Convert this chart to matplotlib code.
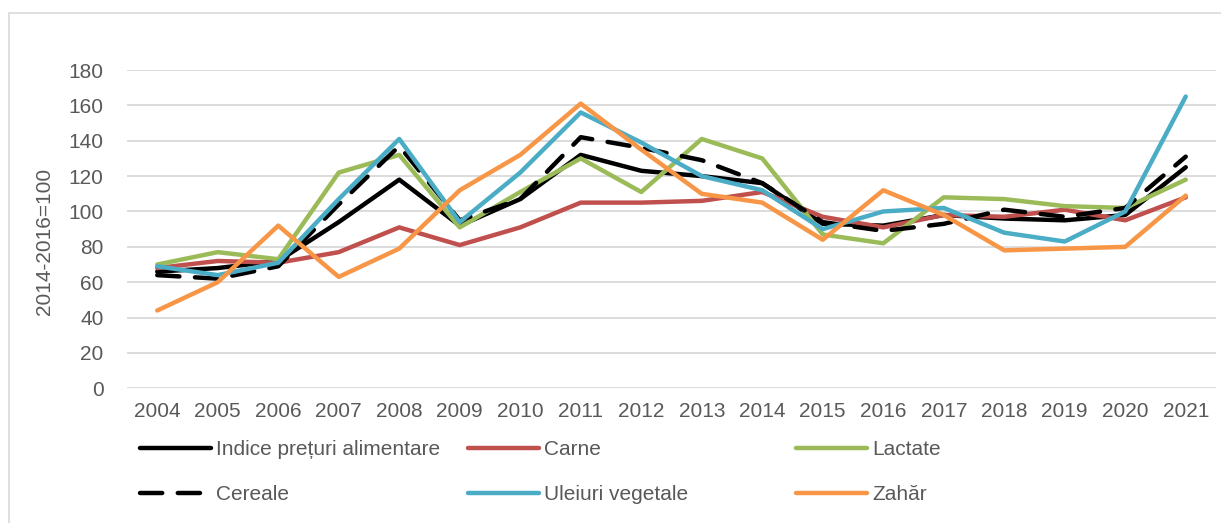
import matplotlib.pyplot as plt
from matplotlib.patches import Rectangle

# ---------------------------------------------------------------------------
# Date (indici FAO, 2014-2016=100)
# ---------------------------------------------------------------------------
ani = [str(a) for a in range(2004, 2022)]

indice   = [66, 68, 72, 94, 118, 92, 107, 132, 123, 120, 116, 93, 92, 98, 96, 95, 98, 125]
carne    = [68, 72, 71, 77, 91, 81, 91, 105, 105, 106, 111, 97, 91, 98, 97, 101, 95, 108]
lactate  = [70, 77, 73, 122, 132, 91, 111, 130, 111, 141, 130, 87, 82, 108, 107, 103, 102, 118]
cereale  = [64, 62, 69, 104, 137, 95, 107, 142, 136, 129, 116, 94, 89, 93, 101, 97, 102, 131]
uleiuri  = [69, 64, 71, 107, 141, 94, 122, 156, 139, 120, 112, 90, 100, 102, 88, 83, 100, 165]
zahar    = [44, 60, 92, 63, 79, 112, 132, 161, 135, 110, 105, 84, 112, 98, 78, 79, 80, 109]

W, H = 1221, 523
GRI_TEXT = "#595959"
GRI_GRID = "#D9D9D9"
FS = 15

plt.rcParams["font.family"] = ["Liberation Sans", "DejaVu Sans"]

fig = plt.figure(figsize=(W / 100, H / 100), dpi=100)
ax = fig.add_axes([127 / W, 1 - 388.3 / H, (1216 - 127) / W, (388.3 - 70) / H])

x = range(len(ani))
stil = dict(lw=3.2, solid_capstyle="round", solid_joinstyle="round")

l_indice, = ax.plot(x, indice, color="black", label="Indice prețuri alimentare", **stil)
l_carne, = ax.plot(x, carne, color="#C0504D", label="Carne", **stil)
l_lactate, = ax.plot(x, lactate, color="#9BBB59", label="Lactate", **stil)
l_cereale, = ax.plot(x, cereale, color="black", lw=3.2, linestyle=(0, (5, 3.5)),
                     dash_capstyle="round", label="Cereale")
l_uleiuri, = ax.plot(x, uleiuri, color="#4BACC6", label="Uleiuri vegetale", **stil)
l_zahar, = ax.plot(x, zahar, color="#F79646", label="Zahăr", **stil)

ax.set_xlim(-0.5, len(ani) - 0.5)
ax.set_ylim(0, 180)
ax.set_yticks(range(0, 181, 20))
ax.set_xticks(list(x))
ax.set_xticklabels(ani)
ax.grid(axis="y", color=GRI_GRID, lw=1.3)
ax.set_axisbelow(True)
for s in ax.spines.values():
    s.set_visible(False)
ax.tick_params(axis="y", length=0, pad=17, labelsize=FS, labelcolor=GRI_TEXT)
ax.tick_params(axis="x", length=0, pad=10, labelsize=FS, labelcolor=GRI_TEXT)

fig.text(45 / W, 1 - 241 / H, "2014-2016=100", rotation=90, ha="center", va="center",
         fontsize=FS, color=GRI_TEXT)

# legenda: trei coloane egale, ca in Excel
coloane = [(l_indice, l_cereale), (l_carne, l_uleiuri), (l_lactate, l_zahar)]
for i, (h1, h2) in enumerate(coloane):
    leg = fig.legend([h1, h2], [h1.get_label(), h2.get_label()],
                     loc="upper left", bbox_to_anchor=((140 + i * 328) / W, 1 - 440 / H),
                     frameon=False, fontsize=FS, handlelength=3.4, handletextpad=0.25,
                     labelspacing=1.25, borderpad=0, borderaxespad=0)
    for t in leg.get_texts():
        t.set_color(GRI_TEXT)

# chenarul graficului
fig.patches.append(Rectangle((9 / W, -0.1), 1.2, 1.1 - 13 / H, transform=fig.transFigure,
                             fill=False, edgecolor=GRI_GRID, lw=1.2))

fig.savefig("out.png", dpi=100)
